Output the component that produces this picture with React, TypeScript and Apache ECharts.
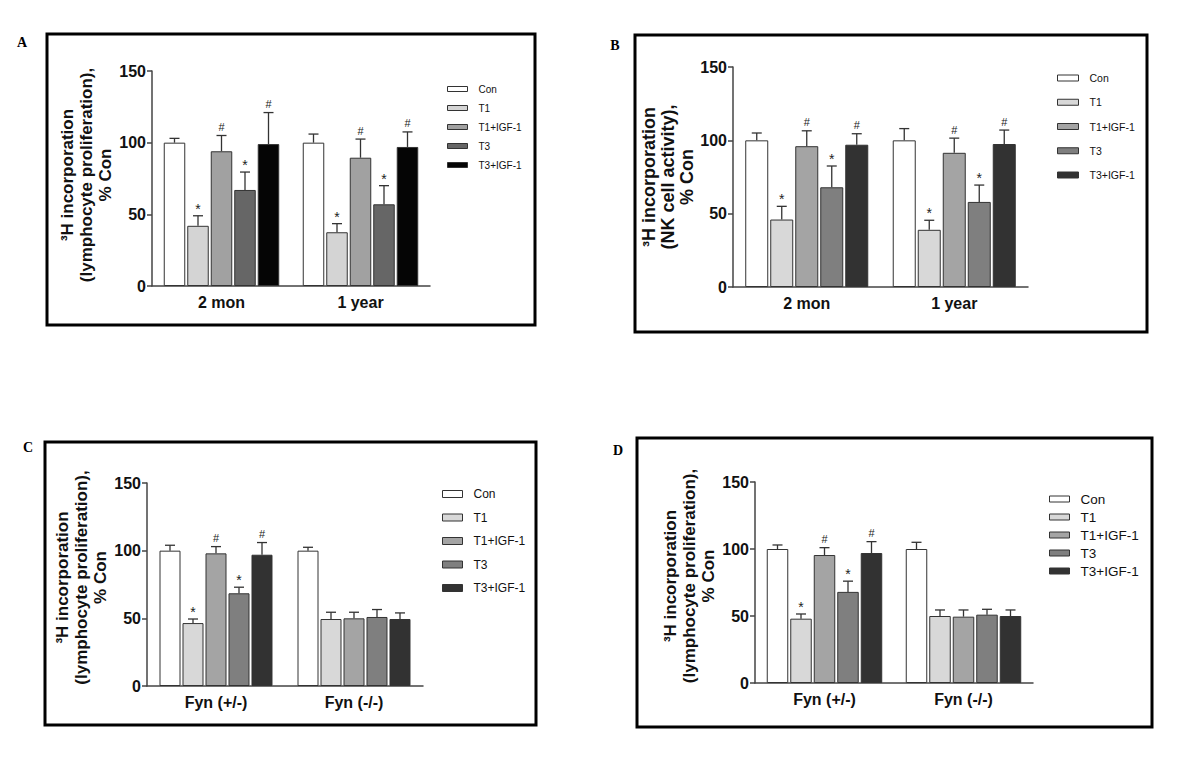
import React, { useEffect, useRef } from "react";
import * as echarts from "echarts";

// ---------- data ----------
const groupNames = ["Con", "T1", "T1+IGF-1", "T3", "T3+IGF-1"];
const categoriesAB = ["2 mon", "1 year"];
const categoriesCD = ["Fyn (+/-)", "Fyn (-/-)"];
const yRange = [0, 150];
const yStep = 50;

// values are [group][category]
const meanA = [[100, 100], [42, 37.5], [94, 89.5], [67, 57], [99, 97]];
const errA = [[3, 6], [7, 6], [11, 13], [12.5, 13], [22, 10.5]];
const marksA = [["", ""], ["*", "*"], ["#", "#"], ["*", "*"], ["#", "#"]];

const meanB = [[100, 100], [46, 39], [96, 91.5], [68, 58], [97, 97.5]];
const errB = [[5, 8], [9, 6.5], [10.5, 10], [14.5, 11.5], [7.5, 9.5]];
const marksB = [["", ""], ["*", "*"], ["#", "#"], ["*", "*"], ["#", "#"]];

const meanC = [[100, 100], [46.5, 49.5], [98, 50], [68.5, 51], [97, 49.5]];
const errC = [[4, 2.5], [3, 5], [5, 4.5], [4.5, 5.5], [9, 4.5]];
const marksC = [["", ""], ["*", ""], ["#", ""], ["*", ""], ["#", ""]];

const meanD = [[100, 100], [48, 50], [95.5, 49.5], [68, 51], [97, 50]];
const errD = [[3, 5], [3.5, 4.5], [5.5, 5], [8, 4], [8.5, 4.5]];
const marksD = [["", ""], ["*", ""], ["#", ""], ["*", ""], ["#", ""]];

const titleLymph = "³H incorporation\n(lymphocyte proliferation),\n% Con";
const titleNK = "³H incorporation\n(NK cell activity),\n% Con";

const colorsA = ["#ffffff", "#d4d4d4", "#a1a1a1", "#666666", "#050505"];
const colorsBCD = ["#ffffff", "#d8d8d8", "#a4a4a4", "#7f7f7f", "#323232"];

// ---------- layout ----------
const NARROW = "'Liberation Sans Narrow', 'Arial Narrow', 'Liberation Sans', Arial, sans-serif";
const SANS = "'Liberation Sans', Arial, sans-serif";
const SERIF = "'Liberation Serif', 'Times New Roman', serif";

const panels = [
  {
    letter: "A", letterPos: [22, 42], frame: [47, 34, 535, 325],
    cats: categoriesAB, mean: meanA, err: errA, marks: marksA, colors: colorsA, title: titleLymph,
    grid: [152, 71, 278, 215], barW: 21.5, gap: 2, nameGap: 32, titleSize: 17, titlePad: 7,
    legend: { left: 447, top: 83, iw: 20, ih: 5, fs: 10, lh: 12, gap: 7, font: NARROW },
  },
  {
    letter: "B", letterPos: [615, 45], frame: [635, 35, 1147, 332],
    cats: categoriesAB, mean: meanB, err: errB, marks: marksB, colors: colorsBCD, title: titleNK,
    grid: [733, 67, 295, 220], barW: 23, gap: 2, nameGap: 33, titleSize: 18, titlePad: 0,
    legend: { left: 1057, top: 71, iw: 21, ih: 6, fs: 10.5, lh: 14, gap: 10.25, font: NARROW },
  },
  {
    letter: "C", letterPos: [28, 447], frame: [45, 442, 536, 725],
    cats: categoriesCD, mean: meanC, err: errC, marks: marksC, colors: colorsBCD, title: titleLymph,
    grid: [147, 483, 276, 203], barW: 21, gap: 2, nameGap: 35, titleSize: 17, titlePad: 14,
    legend: { left: 442, top: 486.5, iw: 20, ih: 7, fs: 12, lh: 15, gap: 8.5, font: NARROW },
  },
  {
    letter: "D", letterPos: [618, 450], frame: [637, 438, 1152, 727],
    cats: categoriesCD, mean: meanD, err: errD, marks: marksD, colors: colorsBCD, title: titleLymph,
    grid: [755, 482, 278, 201], barW: 21.5, gap: 2, nameGap: 28, titleSize: 17, titlePad: 13,
    legend: { left: 1049, top: 491.5, iw: 20, ih: 6, fs: 13.5, lh: 15, gap: 3, font: SANS },
  },
];

function buildOption() {
  const grid: any[] = [];
  const xAxis: any[] = [];
  const yAxis: any[] = [];
  const series: any[] = [];
  const legend: any[] = [];
  const graphic: any[] = [];
  const axisColor = "#444";

  panels.forEach((p, pi) => {
    grid.push({ left: p.grid[0], top: p.grid[1], width: p.grid[2], height: p.grid[3] });
    xAxis.push({
      type: "category", gridIndex: pi, data: p.cats,
      axisLine: { lineStyle: { color: axisColor, width: 1.5 } },
      axisTick: { alignWithLabel: true, length: 5, lineStyle: { color: axisColor, width: 1.5 } },
      axisLabel: { margin: 8, fontSize: 16, fontWeight: "bold", color: "#111", fontFamily: NARROW },
      splitLine: { show: false },
    });
    yAxis.push({
      type: "value", gridIndex: pi, min: yRange[0], max: yRange[1], interval: yStep,
      name: p.title, nameLocation: "middle", nameGap: p.nameGap, nameRotate: 90,
      nameTextStyle: {
        fontSize: p.titleSize, fontWeight: "bold", fontFamily: SANS, color: "#111",
        lineHeight: 19, align: "center", padding: [0, 0, 0, p.titlePad],
      },
      axisLine: { show: true, lineStyle: { color: axisColor, width: 1.5 } },
      axisTick: { show: true, length: 5, lineStyle: { color: axisColor, width: 1.5 } },
      axisLabel: { margin: 6, fontSize: 16, fontWeight: "bold", color: "#111", fontFamily: NARROW },
      splitLine: { show: false },
    });

    const step = p.barW + p.gap;
    groupNames.forEach((n, si) => {
      series.push({
        type: "bar", name: n, xAxisIndex: pi, yAxisIndex: pi, data: p.mean[si],
        barWidth: p.barW, barGap: ((p.gap / p.barW) * 100).toFixed(2) + "%",
        itemStyle: { color: p.colors[si], borderColor: "#333", borderWidth: 1 },
        emphasis: { disabled: true }, silent: true,
      });
    });

    const eData: number[][] = [];
    const eMarks: string[] = [];
    p.mean.forEach((arr, si) =>
      arr.forEach((v, ci) => {
        eData.push([ci, v, p.err[si][ci], si]);
        eMarks.push(p.marks[si][ci]);
      })
    );
    series.push({
      type: "custom", xAxisIndex: pi, yAxisIndex: pi, data: eData, z: 5, silent: true,
      encode: { x: 0, y: 1 },
      renderItem: (params: any, api: any) => {
        const ci = api.value(0);
        const m = api.value(1);
        const e = api.value(2);
        const si = api.value(3);
        const base = api.coord([ci, m]);
        const top = api.coord([ci, m + e]);
        const x = base[0] + (si - 2) * step;
        const mark = eMarks[params.dataIndex];
        const children: any[] = [
          { type: "line", shape: { x1: x, y1: base[1], x2: x, y2: top[1] }, style: { stroke: "#333", lineWidth: 1.3 } },
          { type: "line", shape: { x1: x - 5, y1: top[1], x2: x + 5, y2: top[1] }, style: { stroke: "#333", lineWidth: 1.3 } },
        ];
        if (mark) {
          children.push({
            type: "text",
            style: {
              text: mark, x: x, y: top[1] - (mark === "*" ? 0 : 3),
              align: "center", verticalAlign: "bottom",
              fontSize: mark === "*" ? 14 : 11, fontFamily: SANS, fill: "#222",
            },
          });
        }
        return { type: "group", children };
      },
    });

    const L = p.legend;
    legend.push({
      orient: "vertical", left: L.left, top: L.top, itemWidth: L.iw, itemHeight: L.ih,
      itemGap: L.gap, selectedMode: false, icon: "rect", padding: 0,
      textStyle: { fontSize: L.fs, lineHeight: L.lh, fontFamily: L.font, color: "#111", padding: [0, 0, 0, 6] },
      data: groupNames.map((n, si) => ({
        name: n,
        itemStyle: { color: p.colors[si], borderColor: "#333", borderWidth: 1 },
      })),
    });

    const [fx1, fy1, fx2, fy2] = p.frame;
    graphic.push({
      type: "rect", silent: true,
      shape: { x: fx1, y: fy1, width: fx2 - fx1, height: fy2 - fy1 },
      style: { fill: "none", stroke: "#000", lineWidth: 3 },
    });
    graphic.push({
      type: "text", silent: true, x: p.letterPos[0], y: p.letterPos[1],
      style: { text: p.letter, fontSize: 14, fontWeight: "bold", fontFamily: SERIF, fill: "#000", align: "center", verticalAlign: "middle" },
    });
  });

  return {
    animation: false,
    backgroundColor: "#ffffff",
    grid, xAxis, yAxis, series, legend, graphic,
  };
}

export default function App() {
  const ref = useRef<HTMLDivElement>(null);
  useEffect(() => {
    if (!ref.current) return;
    const chart = echarts.init(ref.current, undefined, { renderer: "svg" });
    chart.setOption(buildOption() as any);
    return () => chart.dispose();
  }, []);
  return (
    <div
      ref={ref}
      style={{ position: "absolute", left: 0, top: 0, width: 1200, height: 778, background: "#fff" }}
    />
  );
}
